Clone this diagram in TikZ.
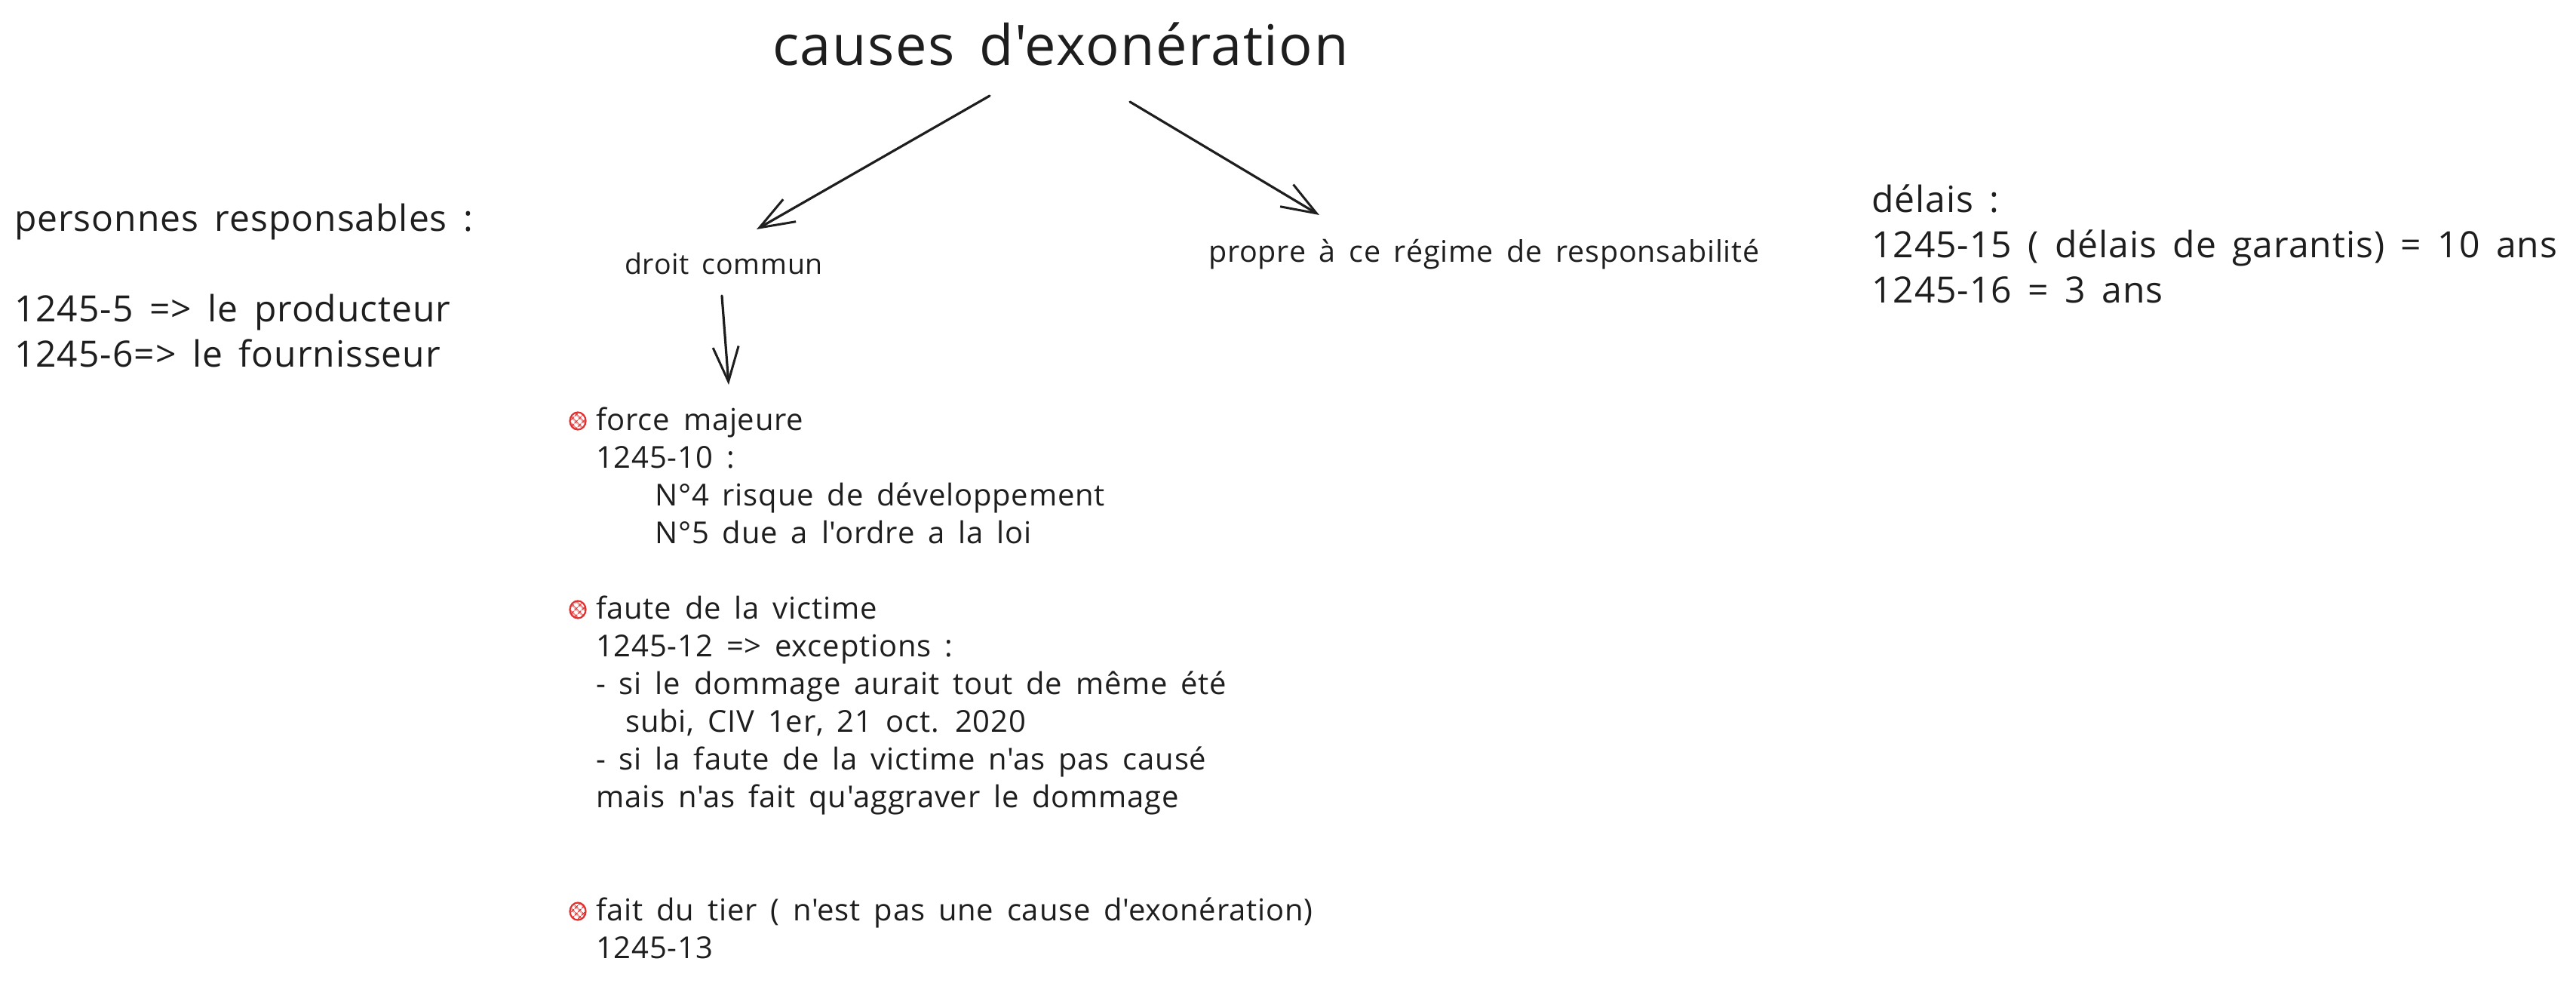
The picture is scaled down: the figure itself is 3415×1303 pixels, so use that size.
\documentclass[tikz,border=0pt]{standalone}
\usepackage{fontspec}
\setmainfont{Open Sans}[Ligatures=TeXOff, WordSpace=1.6, LetterSpace=2]
\usetikzlibrary{arrows.meta,patterns.meta,shapes.geometric}
\definecolor{ink}{HTML}{1E1E1E}
\definecolor{bred}{HTML}{E03131}
\begin{document}
\begin{tikzpicture}[x=1pt,y=-1pt,
  txt/.style={anchor=base west, inner sep=0pt, text=ink},
  ftitle/.style={font=\fontsize{74}{90}\selectfont},
  fbig/.style={font=\fontsize{48}{60}\selectfont},
  fsmall/.style={font=\fontsize{40}{50}\selectfont},
  arr/.style={draw=ink, line width=3.2pt, line cap=round, line join=round,
    -{Straight Barb[length=46pt, width=34pt, line width=3pt]}},
  bullet/.style={ellipse, minimum width=21pt, minimum height=23pt, inner sep=0pt, draw=bred, line width=2.2pt,
    pattern={Hatch[angle=45, distance=6.5pt, line width=1.3pt]}, pattern color=bred}]
\fill[white] (0,0) rectangle (3415,1303);
\useasboundingbox (0,0) rectangle (3415,1303);

% title
\node[txt, ftitle] (title) at (1024,87) {causes d'exonération};

% branches
\node[txt, font=\fontsize{37.5}{47}\selectfont] (droit) at (828,363) {droit commun};
\node[txt, font=\fontsize{39.5}{49}\selectfont] (propre) at (1602,347) {propre à ce régime de responsabilité};

\coordinate (a1s) at (1312,127);
\coordinate (a1e) at (1003,304);
\coordinate (a2s) at (1498,135);
\coordinate (a2e) at (1749,285);
\coordinate (a3s) at (957,392);
\coordinate (a3e) at (966,510);
\draw[arr] (a1s) -- (a1e);
\draw[arr] (a2s) -- (a2e);
\draw[arr] (a3s) -- (a3e);

% persons
\node[txt, fbig] (pers) at (19,306) {personnes responsables :};
\node[txt, fbig] (prod) at (19,426) {1245-5 => le producteur};
\node[txt, fbig] (four) at (19,486) {1245-6=> le fournisseur};

% delais
\node[txt, fbig] (del1) at (2481,281) {délais :};
\node[txt, fbig] (del2) at (2481,341) {1245-15 ( délais de garantis) = 10 ans};
\node[txt, fbig] (del3) at (2481,401) {1245-16 = 3 ans};

% left column
\node[bullet] (b1) at (766,558) {};
\node[bullet] (b2) at (766,808) {};
\node[bullet] (b3) at (766,1208) {};

\node[txt, fsmall] (l1) at (790,570) {force majeure};
\node[txt, fsmall] (l2) at (790,620) {1245-10 :};
\node[txt, fsmall] (l3) at (868,670) {N°4 risque de développement};
\node[txt, fsmall] (l4) at (868,720) {N°5 due a l'ordre a la loi};
\node[txt, fsmall] (l5) at (790,820) {faute de la victime};
\node[txt, fsmall] (l6) at (790,870) {1245-12 => exceptions :};
\node[txt, fsmall] (l7) at (790,920) {- si le dommage aurait tout de même été};
\node[txt, fsmall] (l8) at (829,970) {subi, CIV 1er, 21 oct. 2020};
\node[txt, fsmall] (l9) at (790,1020) {- si la faute de la victime n'as pas causé};
\node[txt, fsmall] (l10) at (790,1070) {mais n'as fait qu'aggraver le dommage};
\node[txt, fsmall] (l11) at (790,1220) {fait du tier ( n'est pas une cause d'exonération)};
\node[txt, fsmall] (l12) at (790,1270) {1245-13};
\end{tikzpicture}
\end{document}
